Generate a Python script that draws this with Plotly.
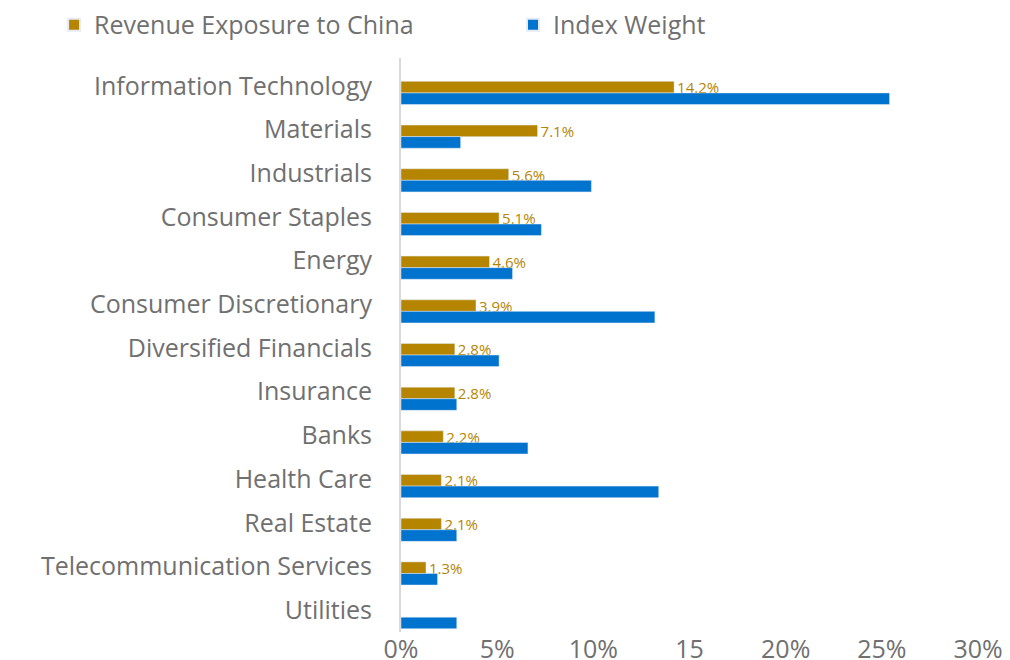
import plotly.graph_objects as go

sectors = [
    "Information Technology",
    "Materials",
    "Industrials",
    "Consumer Staples",
    "Energy",
    "Consumer Discretionary",
    "Diversified Financials",
    "Insurance",
    "Banks",
    "Health Care",
    "Real Estate",
    "Telecommunication Services",
    "Utilities",
]
revenue_china = [14.2, 7.1, 5.6, 5.1, 4.6, 3.9, 2.8, 2.8, 2.2, 2.1, 2.1, 1.3, None]
index_weight = [25.4, 3.1, 9.9, 7.3, 5.8, 13.2, 5.1, 2.9, 6.6, 13.4, 2.9, 1.9, 2.9]
tick_vals = [0, 5, 10, 15, 20, 25, 30]
tick_text = ["0%", "5%", "10%", "15", "20%", "25%", "30%"]

gold = "#b58500"
blue = "#0073cf"
grey = "#707070"
font = "Open Sans"

fig = go.Figure()
fig.add_trace(go.Bar(
    y=sectors,
    x=revenue_china,
    orientation="h",
    name="Revenue Exposure to China",
    marker_color=gold,
    text=[f"{v:.1f}%" if v is not None else "" for v in revenue_china],
    textposition="outside",
    constraintext="none",
    textfont=dict(color=gold, size=15, family=font),
    cliponaxis=False,
    legend="legend",
))
fig.add_trace(go.Bar(
    y=sectors,
    x=index_weight,
    orientation="h",
    name="Index Weight",
    marker_color=blue,
    legend="legend2",
))

# one legend per series so both sit on a single row, spaced like the original
legend_style = dict(
    orientation="h",
    xref="container",
    yref="paper",
    y=1.0575,
    xanchor="left",
    yanchor="middle",
    bgcolor="rgba(0,0,0,0)",
    font=dict(size=25, color=grey),
    itemsizing="constant",
)

# page body has an 8px margin, so the figure is a bit smaller than the window
fig.update_layout(
    width=1002,
    height=652,
    showlegend=True,  # a legend with a single trace is hidden otherwise
    barmode="group",
    bargap=0.47,
    bargroupgap=0,
    plot_bgcolor="white",
    paper_bgcolor="white",
    font=dict(family=font, color=grey, size=25),
    margin=dict(l=393, r=32, t=50, b=28, autoexpand=False),
    legend=dict(legend_style, x=0.046),
    legend2=dict(legend_style, x=0.504),
)
fig.update_xaxes(
    range=[0, 30],
    tickvals=tick_vals,
    ticktext=tick_text,
    showgrid=False,
    zeroline=False,
    tickfont=dict(size=25, color=grey),
    fixedrange=True,
)
fig.update_yaxes(
    range=[12.34, -0.8],
    showline=True,
    linecolor="#d9d9d9",
    linewidth=2,
    showgrid=False,
    ticks="",
    automargin=False,
    ticklabelshift=7,
    ticklabelstandoff=22,
    tickfont=dict(size=25, color=grey),
)

fig.write_html("out.html")
